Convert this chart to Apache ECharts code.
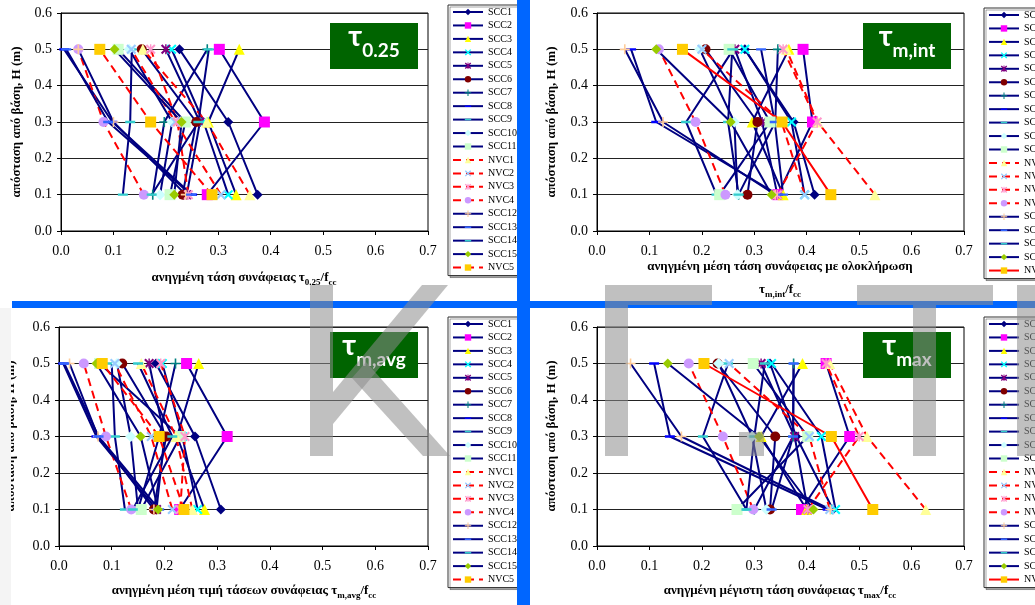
<!DOCTYPE html>
<html><head><meta charset="utf-8">
<script src="https://cdn.jsdelivr.net/npm/echarts@6/dist/echarts.min.js"></script>
<style>html,body{margin:0;padding:0;background:#fff}#c{width:1035px;height:605px}</style>
</head><body><div id="c"></div>
<script>
// ---------------- DATA ----------------
const heights = [0.1, 0.3, 0.5];
const seriesNames = ['SCC1','SCC2','SCC3','SCC4','SCC5','SCC6','SCC7','SCC8','SCC9','SCC10','SCC11',
  'NVC1','NVC2','NVC3','NVC4','SCC12','SCC13','SCC14','SCC15','NVC5'];
const xTickLabels = ['0.0','0.1','0.2','0.3','0.4','0.5','0.6','0.7'];
const yTickLabels = ['0.0','0.1','0.2','0.3','0.4','0.5','0.6'];
// values at H = 0.1, 0.3, 0.5 (m), one row per series in seriesNames order
const tau025 = [
  [0.375,0.319,0.226],[0.279,0.388,0.302],[0.334,0.281,0.340],[0.319,0.272,0.211],[0.240,0.265,0.200],
  [0.232,0.258,0.154],[0.175,0.197,0.279],[0.250,0.098,0.006],[0.118,0.132,0.135],[0.189,0.212,0.130],
  [0.208,0.237,0.109],[0.360,0.278,0.156],[0.305,0.218,0.134],[0.243,0.222,0.171],[0.158,0.081,0.033],
  [0.238,0.100,0.033],[0.248,0.090,0.010],[0.173,0.262,0.282],[0.216,0.230,0.102],[0.288,0.171,0.074]
];
const tauMInt = [
  [0.415,0.375,0.282],[0.345,0.411,0.393],[0.355,0.296,0.366],[0.396,0.371,0.282],[0.344,0.315,0.263],
  [0.287,0.306,0.207],[0.270,0.340,0.345],[0.345,0.113,0.065],[0.228,0.170,0.260],[0.268,0.262,0.196],
  [0.234,0.330,0.252],[0.530,0.421,0.361],[0.396,0.352,0.200],[0.344,0.420,0.355],[0.245,0.188,0.118],
  [0.340,0.126,0.053],[0.355,0.339,0.313],[0.270,0.250,0.258],[0.333,0.255,0.113],[0.446,0.353,0.163]
];
const tauMAvg = [
  [0.307,0.258,0.184],[0.229,0.319,0.242],[0.276,0.224,0.265],[0.263,0.234,0.196],[0.185,0.200,0.171],
  [0.180,0.203,0.120],[0.150,0.190,0.221],[0.185,0.071,0.008],[0.125,0.106,0.100],[0.150,0.136,0.110],
  [0.156,0.230,0.077],[0.253,0.222,0.156],[0.215,0.175,0.106],[0.230,0.239,0.193],[0.137,0.089,0.047],
  [0.180,0.074,0.020],[0.190,0.075,0.010],[0.140,0.215,0.150],[0.188,0.155,0.071],[0.237,0.190,0.082]
];
const tauMax = [
  [0.450,0.380,0.330],[0.390,0.482,0.437],[0.400,0.313,0.392],[0.455,0.428,0.333],[0.402,0.377,0.313],
  [0.330,0.340,0.230],[0.300,0.374,0.375],[0.440,0.139,0.109],[0.285,0.202,0.250],[0.323,0.296,0.232],
  [0.267,0.402,0.298],[0.627,0.515,0.444],[0.444,0.405,0.252],[0.402,0.500,0.437],[0.298,0.240,0.175],
  [0.445,0.161,0.064],[0.333,0.374,0.375],[0.285,0.300,0.320],[0.413,0.309,0.135],[0.526,0.447,0.204]
];

// ---------------- STYLES ----------------
const X = 'path://M0,1.5L1.5,0L5,3.5L8.5,0L10,1.5L6.5,5L10,8.5L8.5,10L5,6.5L1.5,10L0,8.5L3.5,5Z';
const PLUS = 'path://M4.2,0H5.8V4.2H10V5.8H5.8V10H4.2V5.8H0V4.2H4.2Z';
const STAR = X + 'M4.3,0H5.7V10H4.3Z';
const DASH = 'path://M0,0L0.01,0L0,0.01Z M0,3.8H10V6.2H0Z M10,10L9.99,10L10,9.99Z';
const markers = [
  ['diamond','#000080',10],['rect','#FF00FF',11],['triangle','#FFFF00',11],[X,'#00FFFF',10],[STAR,'#800080',10],
  ['circle','#800000',10],[PLUS,'#008080',10],[DASH,'#0000FF',10],[DASH,'#33CCCC',10],['diamond','#CCFFFF',11],
  ['rect','#CCFFCC',11],['triangle','#FFFF99',11],[X,'#99CCFF',10],[STAR,'#FF99CC',10],['circle','#CC99FF',10],
  [PLUS,'#FFCC99',10],[DASH,'#3366FF',10],[DASH,'#33CCCC',10],['diamond','#99CC00',10],['rect','#FFCC00',11]
];
const SERIF = '"Liberation Serif", "DejaVu Serif", serif';
const panels = [
  {vals: tau025, grid:{left:61,right:607,top:13,height:218}, legend:{left:448,top:5}, solidLast:false, sfx:''},
  {vals: tauMInt, grid:{left:597,right:71,top:13,height:218}, legend:{left:984,top:8}, solidLast:true, sfx:' '},
  {vals: tauMAvg, grid:{left:59,right:607,top:327,height:219}, legend:{left:448,top:317}, solidLast:false, sfx:''},
  {vals: tauMax, grid:{left:597,right:71,top:327,height:219}, legend:{left:984,top:317}, solidLast:true, sfx:' '}
];

const grids = [], xAxes = [], yAxes = [], series = [], legends = [];
panels.forEach((p, i) => {
  grids.push(Object.assign({show:true, borderColor:'#000', borderWidth:1, containLabel:false, outerBoundsMode:'none'}, p.grid));
  xAxes.push({gridIndex:i, type:'value', min:0, max:0.7, interval:0.1,
    axisLine:{show:true, onZero:false, lineStyle:{color:'#000', width:1}},
    axisTick:{show:true, length:4, lineStyle:{color:'#000'}},
    axisLabel:{formatter:(v)=>xTickLabels[Math.round(v*10)], fontFamily:SERIF, fontSize:14, color:'#000', margin:13},
    splitLine:{show:false}});
  yAxes.push({gridIndex:i, type:'value', min:0, max:0.6, interval:0.1,
    axisLine:{show:true, onZero:false, lineStyle:{color:'#000', width:1}},
    axisTick:{show:true, length:4, lineStyle:{color:'#000'}},
    axisLabel:{formatter:(v)=>yTickLabels[Math.round(v*10)], fontFamily:SERIF, fontSize:14, color:'#000', margin:9},
    splitLine:{show:true, lineStyle:{color:'#222', width:1}}});
  const names = seriesNames.map(n => n + p.sfx);
  seriesNames.forEach((n, k) => {
    const isNVC = n.startsWith('NVC');
    const dashed = isNVC && !(p.solidLast && n === 'NVC5');
    const m = markers[k];
    series.push({
      type:'line', name:names[k], xAxisIndex:i, yAxisIndex:i,
      data: p.vals[k].map((v, j) => [v, heights[j]]),
      symbol:m[0], symbolSize:m[2], showSymbol:true,
      itemStyle:{color:m[1], borderWidth:0},
      lineStyle:{color: isNVC ? '#FF0000' : '#000080', width:2, type: dashed ? [8,5] : 'solid'},
      emphasis:{disabled:true}, animation:false, silent:true
    });
  });
  legends.push({data:names, orient:'vertical', left:p.legend.left, top:p.legend.top,
    itemWidth:30, itemHeight:8, itemGap:3.45, padding:[2,3,3,4],
    formatter:(nm)=>nm.trim(),
    textStyle:{fontFamily:SERIF, fontSize:10, color:'#000', lineHeight:10},
    backgroundColor:'#fff', borderColor:'#333', borderWidth:1,
    shadowColor:'rgba(0,0,0,0.35)', shadowOffsetX:2, shadowOffsetY:2, shadowBlur:0,
    selectedMode:false});
});

// -------------- graphics --------------
const titleRich = {
  a:{fontFamily:SERIF, fontSize:13, fontWeight:'bold', fill:'#000', lineHeight:16, verticalAlign:'bottom', padding:[0,0,3,0]},
  s:{fontFamily:SERIF, fontSize:9, fontWeight:'bold', fill:'#000', lineHeight:11, verticalAlign:'bottom'}
};
function txt(x, y, text, rot) {
  return {type:'text', x, y, rotation: rot || 0, z:50,
    style:{text, rich:titleRich, align:'center', verticalAlign:'middle', textAlign:'center', textVerticalAlign:'middle'}};
}
const greenRich = {
  t:{fontFamily:'Lato, "Open Sans", sans-serif', fontSize:29, fontWeight:'bold', fill:'#fff', lineHeight:30, verticalAlign:'bottom', padding:[0,0,9,0]},
  s:{fontFamily:'Lato, "Open Sans", sans-serif', fontSize:19, fontWeight:'bold', fill:'#fff', lineHeight:20, verticalAlign:'bottom'}
};
function greenBox(x, y, sub) {
  return [
    {type:'rect', shape:{x, y, width:88, height:46}, style:{fill:'#006400'}, z:60},
    {type:'text', x:x+44, y:y+22, z:61, style:{text:'{t|τ}{s|'+sub+'}', rich:greenRich, align:'center', verticalAlign:'middle'}}
  ];
}
const wm = 'rgba(140,140,140,0.55)';
function poly(points){ return {type:'polygon', shape:{points}, style:{fill:wm}, z:100}; }
function rc(x,y,w,h,fill,z){ return {type:'rect', shape:{x,y,width:w,height:h}, style:{fill}, z:z||90}; }

const graphics = [
  // blue dividers
  rc(517,0,13,605,'#0066FF',80), rc(12,301,1023,7,'#0066FF',80),
  // axis titles
  txt(244, 279, '{a|ανηγμένη τάση συνάφειας τ}{s|0.25}{a|/f}{s|cc}'),
  txt(780, 268, '{a|ανηγμένη μέση τάση συνάφειας με ολοκλήρωση}'),
  txt(780, 291, '{a|τ}{s|m,int}{a|/f}{s|cc}'),
  txt(244, 592, '{a|ανηγμένη μέση τιμή τάσεων συνάφειας τ}{s|m,avg}{a|/f}{s|cc}'),
  txt(780, 592, '{a|ανηγμένη μέγιστη τάση συνάφειας τ}{s|max}{a|/f}{s|cc}'),
  txt(18, 122, '{a|απόσταση από βάση, H (m)}', Math.PI/2),
  txt(553, 122, '{a|απόσταση από βάση, H (m)}', Math.PI/2),
  txt(12, 436, '{a|απόσταση από βάση, H (m)}', Math.PI/2),
  txt(553, 436, '{a|απόσταση από βάση, H (m)}', Math.PI/2),
  rc(0,308,11,297,'#f4f4f4',85),
  ...greenBox(330, 23, '0.25'), ...greenBox(863, 23, 'm,int'),
  ...greenBox(330, 332, 'm,avg'), ...greenBox(863, 332, 'max'),
  // watermark
  rc(310,285,23,171,wm,100),
  poly([[333,392],[422,285],[448,285],[333,424]]),
  poly([[352,378],[366,362],[450,456],[423,456]]),
  rc(605,285,107,20,wm,100), rc(605,305,23,151,wm,100), rc(739,432,25,24,wm,100),
  rc(857,285,136,20,wm,100), rc(913,305,23,151,wm,100),
  rc(1017,285,18,171,wm,100)
];

const chart = echarts.init(document.getElementById('c'), null, {renderer:'canvas'});
chart.setOption({
  backgroundColor:'#fff', animation:false,
  grid:grids, xAxis:xAxes, yAxis:yAxes, series, legend:legends, graphic:graphics,
  tooltip:{show:false}
});
</script></body></html>
